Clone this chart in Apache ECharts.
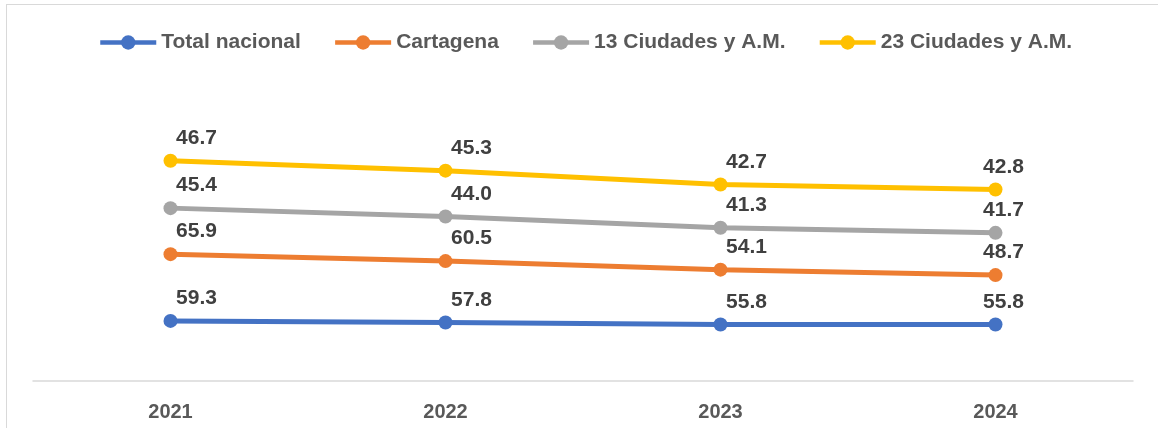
<!DOCTYPE html>
<html>
<head>
<meta charset="utf-8">
<script src="https://cdn.jsdelivr.net/npm/echarts@6/dist/echarts.min.js"></script>
<style>
  html, body { margin: 0; padding: 0; background: #fff; overflow: hidden; }
  #frame { position: absolute; left: 6px; top: 4px; width: 1200px; height: 460px; border: 1px solid #d9d9d9; box-sizing: border-box; }
  #myChart { position: absolute; left: 0; top: 0; width: 1158px; height: 428px; }
</style>
</head>
<body>
<div id="frame"></div>
<div id="myChart"></div>
<script>
  // datos
  const years = ["2021", "2022", "2023", "2024"];
  const totalNacional = [59.3, 57.8, 55.8, 55.8];
  const cartagena = [65.9, 60.5, 54.1, 48.7];
  const ciudades13 = [45.4, 44.0, 41.3, 41.7];
  const ciudades23 = [46.7, 45.3, 42.7, 42.8];

  const names = ["Total nacional", "Cartagena", "13 Ciudades y A.M.", "23 Ciudades y A.M."];
  const colors = ["#4472C4", "#ED7D31", "#A5A5A5", "#FFC000"];
  const valores = [totalNacional, cartagena, ciudades13, ciudades23];

  let myChart = echarts.init(document.getElementById("myChart"));

  function makeSerie(i) {
    return {
      name: names[i],
      type: "line",
      stack: "total", // grafico de lineas apiladas
      symbol: "circle",
      symbolSize: 14,
      color: colors[i],
      lineStyle: { width: 5, color: colors[i] },
      itemStyle: { color: colors[i] },
      label: {
        show: true,
        position: "top",
        distance: 5,
        offset: [26, 0],
        color: "#404040",
        fontFamily: "Liberation Sans",
        fontWeight: "bold",
        fontSize: 21,
        formatter: p => p.value.toFixed(1)
      },
      data: valores[i].map((v, j) => j === years.length - 1
        ? { value: v, label: { offset: [8, 0] } }
        : v)
    };
  }

  myChart.setOption({
    animation: false,
    legend: {
      left: 98,
      top: 32,
      padding: 0,
      itemWidth: 56,
      itemHeight: 18,
      itemGap: 32,
      lineStyle: { width: 4.5 },
      textStyle: {
        color: "#595959",
        fontFamily: "Liberation Sans",
        fontWeight: "bold",
        fontSize: 21
      },
      data: names
    },
    grid: { left: 33, right: 25, top: 77, bottom: 47, containLabel: false },
    xAxis: {
      type: "category",
      data: years,
      boundaryGap: true,
      axisTick: { show: false },
      axisLine: { show: true, lineStyle: { color: "#d9d9d9", width: 1.5 } },
      axisLabel: {
        margin: 21,
        color: "#595959",
        fontFamily: "Liberation Sans",
        fontWeight: "bold",
        fontSize: 20
      }
    },
    yAxis: {
      type: "value",
      min: 0,
      max: 300,
      show: false,
      splitLine: { show: false }
    },
    series: [0, 1, 2, 3].map(makeSerie)
  });
</script>
</body>
</html>
